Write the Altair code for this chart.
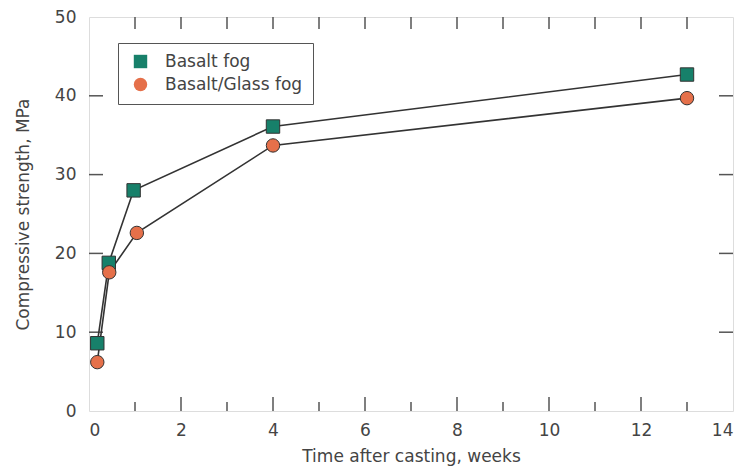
import altair as alt
import pandas as pd

# ---- data ----
weeks_basalt = [0.18, 0.43, 0.97, 4.0, 13.0]
strength_basalt = [8.6, 18.8, 28.0, 36.1, 42.7]
weeks_glass = [0.18, 0.44, 1.04, 4.0, 13.0]
strength_glass = [6.2, 17.6, 22.6, 33.7, 39.7]
series_names = ["Basalt fog", "Basalt/Glass fog"]

x_major = [2, 4, 6, 8, 10, 12]
x_minor = [1, 3, 5, 7, 9, 11, 13]
y_major = [10, 20, 30, 40]
x_labels = [0, 2, 4, 6, 8, 10, 12, 14]
y_labels = [0, 10, 20, 30, 40, 50]

rows = []
for w, s in zip(weeks_basalt, strength_basalt):
    rows.append({"series": series_names[0], "week": w, "strength": s})
for w, s in zip(weeks_glass, strength_glass):
    rows.append({"series": series_names[1], "week": w, "strength": s})
df = pd.DataFrame(rows)

W, H = 644, 394
FONT = "DejaVu Sans"
TXT = "#444444"

xscale = alt.Scale(domain=[0, 14], nice=False, zero=False)
yscale = alt.Scale(domain=[0, 50], nice=False, zero=False)

xaxis = alt.Axis(values=x_labels, title="Time after casting, weeks", grid=False,
                 domain=False, ticks=False, tickSize=0, labelPadding=11,
                 labelFontSize=17, labelFont=FONT, labelColor=TXT,
                 titleFontSize=17, titleFont=FONT, titleColor=TXT,
                 titleFontWeight="normal", titlePadding=10)
yaxis = alt.Axis(values=y_labels, title="Compressive strength, MPa", grid=False,
                 domain=False, ticks=False, tickSize=0, labelPadding=13,
                 labelFontSize=17, labelFont=FONT, labelColor=TXT,
                 titleFontSize=17, titleFont=FONT, titleColor=TXT,
                 titleFontWeight="normal", titlePadding=22)

base = alt.Chart(df)

lines = base.mark_line(color="#333333", strokeWidth=1.6).encode(
    x=alt.X("week:Q", scale=xscale, axis=xaxis),
    y=alt.Y("strength:Q", scale=yscale, axis=yaxis),
    detail="series:N",
)

legend = alt.Legend(title=None, orient="none", legendX=29, legendY=26,
                    strokeColor="#555555", padding=10, fillColor="white",
                    labelFontSize=17, labelFont=FONT, labelColor=TXT,
                    symbolSize=180, symbolStrokeColor="#333333",
                    symbolStrokeWidth=1, labelOffset=16, rowPadding=4,
                    symbolOffset=4)

points = base.mark_point(filled=True, size=180, stroke="#333333",
                         strokeWidth=1, opacity=1).encode(
    x=alt.X("week:Q", scale=xscale),
    y=alt.Y("strength:Q", scale=yscale),
    fill=alt.Fill("series:N",
                  scale=alt.Scale(domain=series_names, range=["#17806a", "#e5704a"]),
                  legend=legend),
    shape=alt.Shape("series:N",
                    scale=alt.Scale(domain=series_names, range=["square", "circle"]),
                    legend=legend),
)

tick_style = dict(color="#555555", strokeWidth=1.5)

bx_major = alt.Chart(pd.DataFrame({"v": x_major})).mark_rule(**tick_style).encode(
    x=alt.X("v:Q", scale=xscale), y=alt.value(H), y2=alt.value(H - 14))
bx_minor = alt.Chart(pd.DataFrame({"v": x_minor})).mark_rule(**tick_style).encode(
    x=alt.X("v:Q", scale=xscale), y=alt.value(H), y2=alt.value(H - 9))
tx = alt.Chart(pd.DataFrame({"v": x_major + x_minor})).mark_rule(**tick_style).encode(
    x=alt.X("v:Q", scale=xscale), y=alt.value(0), y2=alt.value(12))
ly = alt.Chart(pd.DataFrame({"v": y_major})).mark_rule(**tick_style).encode(
    y=alt.Y("v:Q", scale=yscale), x=alt.value(0), x2=alt.value(14))
ry = alt.Chart(pd.DataFrame({"v": y_major})).mark_rule(**tick_style).encode(
    y=alt.Y("v:Q", scale=yscale), x=alt.value(W), x2=alt.value(W - 14))

chart = alt.layer(bx_major, bx_minor, tx, ly, ry, lines, points).properties(
    width=W, height=H,
    padding={"left": 81, "top": 9, "right": 7, "bottom": 56},
    autosize=alt.AutoSizeParams(type="none"),
).configure_view(stroke="#555555", strokeWidth=2).configure(background="white")

chart.save("out.html", embed_options={"renderer": "svg", "actions": False})
